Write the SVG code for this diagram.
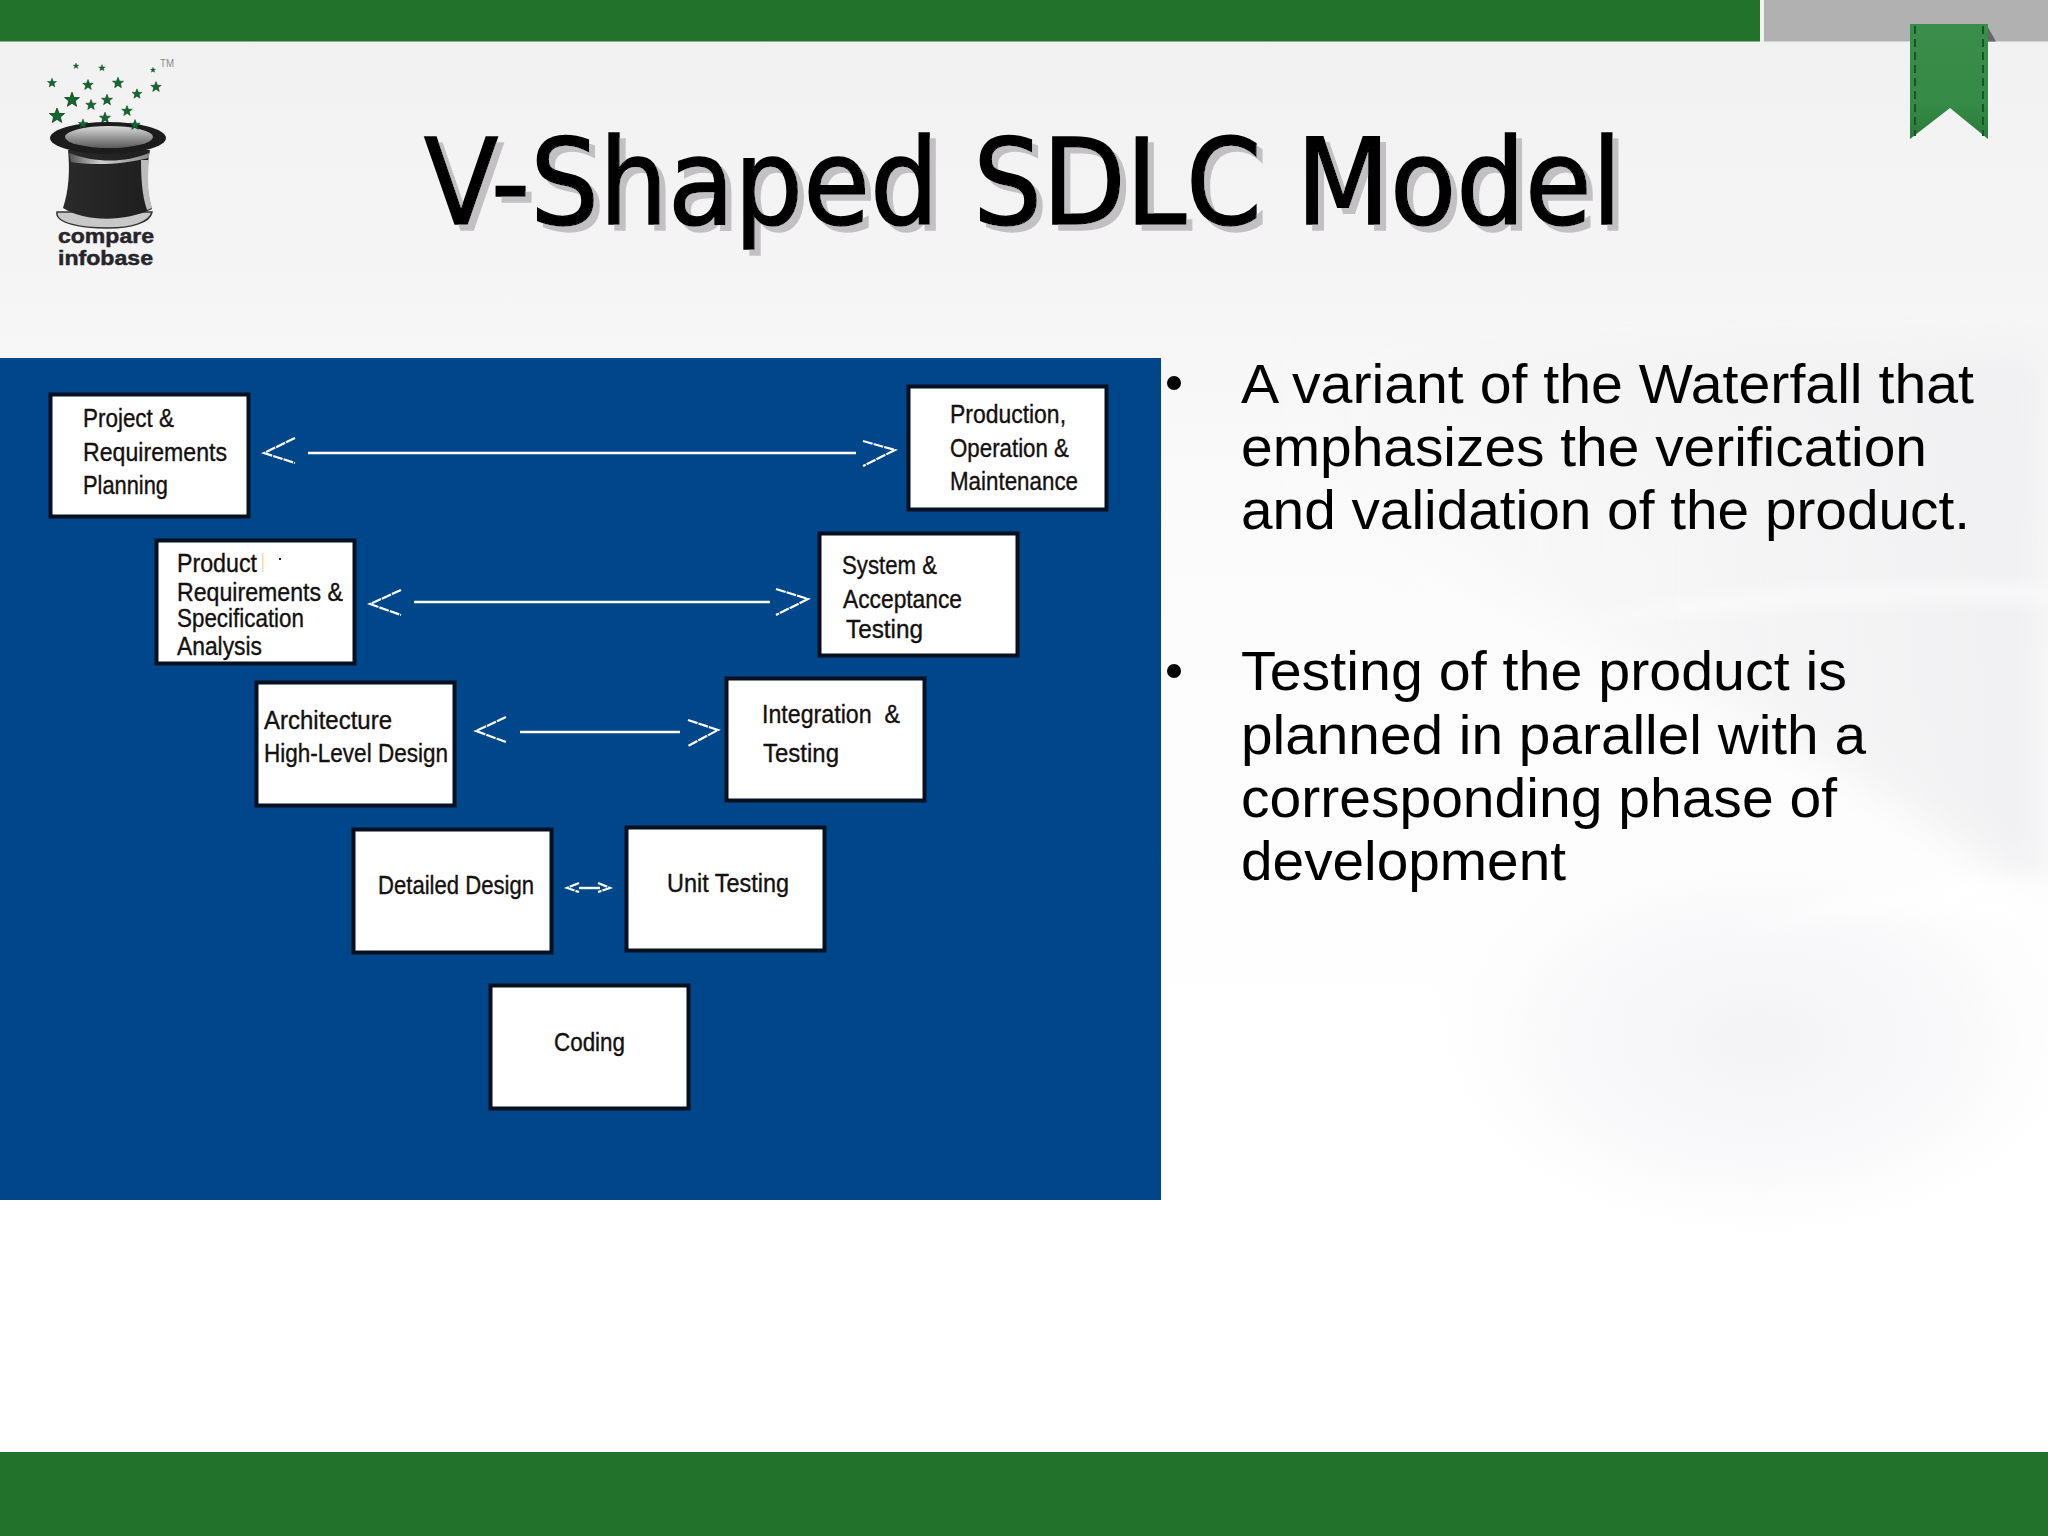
<svg xmlns="http://www.w3.org/2000/svg" xmlns:xlink="http://www.w3.org/1999/xlink" width="2048" height="1536" viewBox="0 0 2048 1536">
<defs>
<style>
.box{fill:#fff;stroke:#06101f;stroke-width:4}
.lb{font-family:"Liberation Sans",Arial,sans-serif;font-size:25px;fill:#14100f;stroke:#14100f;stroke-width:.35}
.body{font-family:"Liberation Sans",Arial,sans-serif;font-size:55px;fill:#000}
.ttl{font-family:"DejaVu Sans",sans-serif;font-size:120px;font-stretch:condensed;fill:#000;stroke:#000;stroke-width:1.5;filter:url(#shadow)}
.logo{font-family:"Liberation Sans",Arial,sans-serif;font-size:21px;font-weight:bold;fill:#26262a;stroke:#26262a;stroke-width:.5}
.conn{fill:none;stroke:#fff;stroke-width:2.4}
.head{fill:none;stroke:#fff;stroke-width:2.2;stroke-dasharray:10 1}
.star{fill:#0e6a2b;stroke:#123a22;stroke-width:1}
</style>
<linearGradient id="bg" x1="0" y1="0" x2="0" y2="1">
<stop offset="0" stop-color="#f1f1f1"/><stop offset=".16" stop-color="#f4f4f4"/><stop offset=".35" stop-color="#fbfbfb"/><stop offset=".7" stop-color="#fff"/><stop offset="1" stop-color="#fff"/>
</linearGradient>
<linearGradient id="rightfade" x1="0" y1="0" x2="1" y2="0">
<stop offset="0" stop-color="#efeff1" stop-opacity="0"/><stop offset="1" stop-color="#efeff1" stop-opacity=".9"/>
</linearGradient>
<radialGradient id="blob"><stop offset="0" stop-color="#f3f2f5"/><stop offset=".6" stop-color="#f7f6f8" stop-opacity=".7"/><stop offset="1" stop-color="#fdfdfe" stop-opacity="0"/></radialGradient>
<linearGradient id="inner" x1="0" y1="0" x2="0" y2="1"><stop offset="0" stop-color="#dcdcdc"/><stop offset=".45" stop-color="#a0a0a0"/><stop offset="1" stop-color="#5a5a5a"/></linearGradient>
<linearGradient id="bodyg" x1="0" y1="0" x2="1" y2="0"><stop offset="0" stop-color="#2a2a2a"/><stop offset="1" stop-color="#1e1e1e"/></linearGradient>
<linearGradient id="band" x1="0" y1="0" x2="1" y2="0"><stop offset="0" stop-color="#555"/><stop offset=".4" stop-color="#cfcfcf"/><stop offset="1" stop-color="#888"/></linearGradient>
<linearGradient id="ribbon" x1="0" y1="0" x2="0" y2="1"><stop offset="0" stop-color="#3a8d4a"/><stop offset=".7" stop-color="#358a45"/><stop offset="1" stop-color="#2a7a39"/></linearGradient>
<filter id="b8" x="-20%" y="-50%" width="140%" height="200%"><feGaussianBlur stdDeviation="8"/></filter>
<filter id="b20" x="-20%" y="-50%" width="140%" height="200%"><feGaussianBlur stdDeviation="20"/></filter>
<filter id="shadow" x="-2%" y="-10%" width="104%" height="130%"><feDropShadow dx="6" dy="6" stdDeviation="0" flood-color="#c2c0c2"/></filter>
<polygon id="st" points="0,-10 2.6,-3.2 9.5,-3.1 4.2,1.2 5.900,8.100 0,4.200 -5.900,8.100 -4.200,1.200 -9.500,-3.100 -2.600,-3.200"/>
</defs>

<g id="background">
<rect width="2048" height="1536" fill="url(#bg)"/>
<path d="M1300 350H2048V900C1900 800 1600 620 1300 500Z" fill="url(#rightfade)" filter="url(#b20)"/>
<ellipse cx="1760" cy="1040" rx="340" ry="210" fill="url(#blob)"/>
<path d="M1585 622C1720 592 1900 586 2048 589V598C1900 594 1720 604 1585 622Z" fill="#fff" filter="url(#b8)"/>
<path d="M1730 925C1830 900 1930 870 2048 880V930C1940 905 1830 915 1730 925Z" fill="#fff" opacity=".7" filter="url(#b8)"/>
<rect y="0" width="1760" height="41.500" fill="#23722a"/>
<rect x="1764" y="0" width="284" height="41.500" fill="#b1b1b1"/>
<rect y="1452" width="2048" height="84" fill="#23722a"/>
</g>

<g id="ribbon-mark">
<path d="M1986 24L1996 41.500H1986Z" fill="#666"/>
<path d="M1910 24H1988V139L1950 108L1910 139Z" fill="url(#ribbon)"/>
<path d="M1915 26V136M1983 26V136" fill="none" stroke="#0f5a22" stroke-width="2" stroke-dasharray="8 5"/>
</g>

<g id="logo">
<g class="star">
<use xlink:href="#st" transform="translate(76,66) scale(.3)"/>
<use xlink:href="#st" transform="translate(102,68) scale(.35)"/>
<use xlink:href="#st" transform="translate(153,70) scale(.28)"/>
<use xlink:href="#st" transform="translate(52,83) scale(.48)"/>
<use xlink:href="#st" transform="translate(88,85) scale(.55)"/>
<use xlink:href="#st" transform="translate(118,83) scale(.58)"/>
<use xlink:href="#st" transform="translate(156,87) scale(.55)"/>
<use xlink:href="#st" transform="translate(137,94) scale(.52)"/>
<use xlink:href="#st" transform="translate(72,100) scale(.78)"/>
<use xlink:href="#st" transform="translate(107,100) scale(.58)"/>
<use xlink:href="#st" transform="translate(91,105) scale(.55)"/>
<use xlink:href="#st" transform="translate(127,111) scale(.55)"/>
<use xlink:href="#st" transform="translate(57,116) scale(.8)"/>
<use xlink:href="#st" transform="translate(105,118) scale(.58)"/>
</g>
<path d="M57 212C55 223 80 228 108 228C130 228 150 223 152 212Z" fill="#c8c8c8" stroke="#333" stroke-width="1.500"/>
<path d="M68 150H150C146 170 146 190 152 209C125 222 85 222 63 208C69 190 70 170 68 150Z" fill="url(#bodyg)"/>
<path d="M69 153C95 163 125 163 149 153V158C125 164 95 166 71 162Z" fill="url(#band)"/>
<path d="M141 160H149C147 178 148 195 152 208L147 210C142 195 141 178 141 160Z" fill="#bdbdbd"/>
<ellipse cx="108" cy="138" rx="58" ry="16" fill="#1c1c1c"/>
<ellipse cx="109" cy="137" rx="44" ry="11" fill="url(#inner)"/>
<g class="star">
<use xlink:href="#st" transform="translate(83,124) scale(.5)"/>
<use xlink:href="#st" transform="translate(135,125) scale(.55)"/>
</g>
<text class="logo" x="58" y="243" textLength="96" lengthAdjust="spacingAndGlyphs">compare</text>
<text class="logo" x="58" y="265" textLength="95" lengthAdjust="spacingAndGlyphs">infobase</text>
<text x="160" y="67" font-family="Liberation Sans,sans-serif" font-size="10" fill="#8a8a8a" textLength="14" lengthAdjust="spacingAndGlyphs">TM</text>
</g>

<g id="title">
<text class="ttl" x="424" y="224" textLength="1198" lengthAdjust="spacingAndGlyphs">V-Shaped SDLC Model</text>
</g>

<rect id="panel" x="0" y="358" width="1161" height="842" fill="#00468a"/>

<g id="connectors">
<path class="conn" d="M308 453H856"/>
<path class="head" d="M295 438L264 453L295 463"/>
<path class="head" d="M863 441L895 450L863 466"/>
<path class="conn" d="M414 602H770"/>
<path class="head" d="M401 590L370 604L401 615"/>
<path class="head" d="M776 589L808 599L776 615"/>
<path class="conn" d="M520 732H680"/>
<path class="head" d="M506 717L476 731L506 742"/>
<path class="head" d="M688 720L718 730L688 746"/>
<path class="conn" d="M579 888H600"/>
<path class="head" d="M579 883L567 888L579 892"/>
<path class="head" d="M598 883L610 888L598 892"/>
</g>

<g id="node-project">
<rect class="box" x="50.500" y="394.500" width="198" height="122"/>
<text class="lb" x="83" y="427" textLength="91" lengthAdjust="spacingAndGlyphs">Project &amp;</text>
<text class="lb" x="83" y="461" textLength="144" lengthAdjust="spacingAndGlyphs">Requirements</text>
<text class="lb" x="83" y="494" textLength="85" lengthAdjust="spacingAndGlyphs">Planning</text>
</g>
<g id="node-product">
<rect class="box" x="156.500" y="540.500" width="198" height="123"/>
<text class="lb" x="177" y="572" textLength="80" lengthAdjust="spacingAndGlyphs">Product</text>
<rect x="262" y="553" width="1.500" height="19" fill="#f6d9a6"/>
<rect x="279" y="558" width="2" height="2" fill="#222"/>
<text class="lb" x="177" y="601" textLength="166" lengthAdjust="spacingAndGlyphs">Requirements &amp;</text>
<text class="lb" x="177" y="627" textLength="127" lengthAdjust="spacingAndGlyphs">Specification</text>
<text class="lb" x="177" y="655" textLength="85" lengthAdjust="spacingAndGlyphs">Analysis</text>
</g>
<g id="node-architecture">
<rect class="box" x="256.500" y="682.500" width="198" height="123"/>
<text class="lb" x="264" y="729" textLength="128" lengthAdjust="spacingAndGlyphs">Architecture</text>
<text class="lb" x="264" y="762" textLength="184" lengthAdjust="spacingAndGlyphs">High-Level Design</text>
</g>
<g id="node-detailed">
<rect class="box" x="353.500" y="829.500" width="198" height="123"/>
<text class="lb" x="378" y="894" textLength="156" lengthAdjust="spacingAndGlyphs">Detailed Design</text>
</g>
<g id="node-coding">
<rect class="box" x="490.500" y="985.500" width="198" height="123"/>
<text class="lb" x="554" y="1051" textLength="71" lengthAdjust="spacingAndGlyphs">Coding</text>
</g>
<g id="node-unit">
<rect class="box" x="626.500" y="827.500" width="198" height="123"/>
<text class="lb" x="667" y="892" textLength="122" lengthAdjust="spacingAndGlyphs">Unit Testing</text>
</g>
<g id="node-integration">
<rect class="box" x="726.500" y="678.500" width="198" height="122"/>
<text class="lb" x="762" y="723" textLength="138" lengthAdjust="spacingAndGlyphs" xml:space="preserve">Integration  &amp;</text>
<text class="lb" x="763" y="762" textLength="76" lengthAdjust="spacingAndGlyphs">Testing</text>
</g>
<g id="node-system">
<rect class="box" x="819.500" y="533.500" width="198" height="122"/>
<text class="lb" x="842" y="574" textLength="95" lengthAdjust="spacingAndGlyphs">System &amp;</text>
<text class="lb" x="843" y="608" textLength="119" lengthAdjust="spacingAndGlyphs">Acceptance</text>
<text class="lb" x="846" y="638" textLength="77" lengthAdjust="spacingAndGlyphs">Testing</text>
</g>
<g id="node-production">
<rect class="box" x="908.500" y="386.500" width="198" height="123"/>
<text class="lb" x="950" y="423" textLength="116" lengthAdjust="spacingAndGlyphs">Production,</text>
<text class="lb" x="950" y="457" textLength="119" lengthAdjust="spacingAndGlyphs">Operation &amp;</text>
<text class="lb" x="950" y="490" textLength="128" lengthAdjust="spacingAndGlyphs">Maintenance</text>
</g>

<g id="bullets">
<circle cx="1174" cy="383" r="7"/>
<circle cx="1174" cy="671" r="7"/>
<text class="body" x="1241" y="402.500" textLength="733" lengthAdjust="spacingAndGlyphs">A variant of the Waterfall that</text>
<text class="body" x="1241" y="465.500" textLength="686" lengthAdjust="spacingAndGlyphs">emphasizes the verification</text>
<text class="body" x="1241" y="529" textLength="729" lengthAdjust="spacingAndGlyphs">and validation of the product.</text>
<text class="body" x="1241" y="690" textLength="606" lengthAdjust="spacingAndGlyphs">Testing of the product is</text>
<text class="body" x="1241" y="753.500" textLength="625" lengthAdjust="spacingAndGlyphs">planned in parallel with a</text>
<text class="body" x="1241" y="817" textLength="596" lengthAdjust="spacingAndGlyphs">corresponding phase of</text>
<text class="body" x="1241" y="880" textLength="325" lengthAdjust="spacingAndGlyphs">development</text>
</g>
</svg>
